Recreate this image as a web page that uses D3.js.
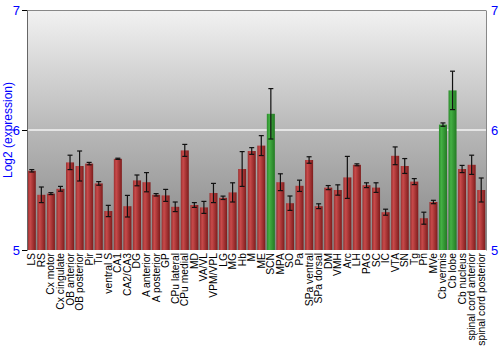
<!DOCTYPE html>
<html><head><meta charset="utf-8">
<script src="https://cdn.jsdelivr.net/npm/d3@7"></script>
<style>body{margin:0;background:#fff}svg{display:block}</style>
</head><body>
<script>
const categories = ["LS","RS","Cx motor","Cx cingulate","OB anterior","OB posterior","Pir","Tu","ventral S","CA1","CA2/CA3","DG","A anterior","A posterior","GP","CPu lateral","CPu medial","MD","VA/VL","VPM/VPL","LG","MG","Hb","M","ME","SCN","MPA","SO","Pa","SPa ventral","SPa dorsal","DM","VMH","Arc","LH","PAG","SC","IC","VTA","SN","Tg","Pn","MVe","Cb vermis","Cb lobe","Cb nucleus","spinal cord anterior","spinal cord posterior"];
const values = [5.66,5.46,5.47,5.51,5.73,5.70,5.72,5.555,5.325,5.76,5.365,5.58,5.565,5.46,5.455,5.36,5.83,5.375,5.355,5.475,5.435,5.48,5.675,5.825,5.87,6.135,5.565,5.39,5.535,5.75,5.365,5.52,5.50,5.605,5.71,5.54,5.52,5.315,5.785,5.70,5.57,5.265,5.40,6.045,6.33,5.675,5.71,5.50];
const errors = [0.01,0.065,0.008,0.02,0.06,0.125,0.01,0.015,0.047,0.005,0.09,0.045,0.08,0.01,0.05,0.04,0.05,0.02,0.05,0.08,0.014,0.08,0.145,0.028,0.083,0.21,0.07,0.06,0.047,0.027,0.02,0.017,0.043,0.175,0.008,0.02,0.04,0.025,0.074,0.062,0.025,0.05,0.014,0.014,0.16,0.03,0.08,0.1];
const highlighted = ["SCN","Cb vermis","Cb lobe"];
const yTicks = [5,6,7];

const W=500,H=350, m={l:27,r:14,t:10,b:100};
const svg=d3.select("body").append("svg").attr("width",W).attr("height",H);
const defs=svg.append("defs");
const bg=defs.append("linearGradient").attr("id","bg").attr("x1",0).attr("y1",0).attr("x2",0).attr("y2",1);
bg.append("stop").attr("offset","0%").attr("stop-color","#f2f2f2");
bg.append("stop").attr("offset","50%").attr("stop-color","#b8b8b8");
bg.append("stop").attr("offset","100%").attr("stop-color","#858585");
function barGrad(id,c0,c1,c2){
  const g=defs.append("linearGradient").attr("id",id).attr("x1",0).attr("y1",0).attr("x2",1).attr("y2",0);
  g.append("stop").attr("offset","0%").attr("stop-color",c0);
  g.append("stop").attr("offset","30%").attr("stop-color",c1);
  g.append("stop").attr("offset","100%").attr("stop-color",c2);
}
barGrad("red","#9a3030","#c84a4a","#7e1c1c");
barGrad("green","#2a8a2a","#44b044","#237a23");

const x=d3.scaleBand().domain(categories).range([m.l,W-m.r]).paddingInner(0.16).paddingOuter(0.08);
const y=d3.scaleLinear().domain([5,7]).range([H-m.b,m.t]);

svg.append("rect").attr("x",m.l).attr("y",m.t).attr("width",W-m.r-m.l).attr("height",H-m.b-m.t).attr("fill","url(#bg)");
svg.append("line").attr("x1",m.l).attr("x2",W-m.r).attr("y1",y(6)).attr("y2",y(6)).attr("stroke","#f4f4f4").attr("stroke-width",1.5);
svg.append("line").attr("x1",m.l).attr("x2",W-m.r).attr("y1",m.t+0.5).attr("y2",m.t+0.5).attr("stroke","#888");

svg.append("g").selectAll("rect").data(categories).join("rect")
  .attr("x",d=>x(d)).attr("width",x.bandwidth())
  .attr("y",(d,i)=>y(values[i])).attr("height",(d,i)=>y(5)-y(values[i]))
  .attr("fill",d=>highlighted.includes(d)?"url(#green)":"url(#red)");

const eb=svg.append("g").attr("stroke","#111").attr("stroke-width",1.2);
categories.forEach((d,i)=>{
  const cx=x(d)+x.bandwidth()/2, y1=y(values[i]+errors[i]), y2=y(values[i]-errors[i]);
  eb.append("line").attr("x1",cx).attr("x2",cx).attr("y1",y1).attr("y2",y2);
  eb.append("line").attr("x1",cx-2.5).attr("x2",cx+2.5).attr("y1",y1).attr("y2",y1);
  eb.append("line").attr("x1",cx-2.5).attr("x2",cx+2.5).attr("y1",y2).attr("y2",y2);
});

const ax=svg.append("g").attr("transform",`translate(${m.l},0)`).call(d3.axisLeft(y).tickValues(yTicks).tickFormat(d3.format("d")).tickSize(5).tickPadding(2));
ax.select(".domain").attr("stroke","#666");
ax.selectAll(".tick line").attr("stroke","#000");
ax.selectAll("text").attr("fill","#00f").style("font-family","Liberation Sans, Arial, sans-serif").style("font-size","13px");
const ar=svg.append("g").attr("transform",`translate(${W-m.r},0)`).call(d3.axisRight(y).tickValues(yTicks).tickFormat(d3.format("d")).tickSize(0).tickPadding(5));
ar.select(".domain").attr("stroke","#888");
ar.selectAll("text").attr("fill","#00f").style("font-family","Liberation Sans, Arial, sans-serif").style("font-size","13px");

svg.append("text").attr("transform",`translate(12,${(m.t+H-m.b)/2}) rotate(-90)`).attr("text-anchor","middle")
  .attr("fill","#00f").style("font-family","Liberation Sans, Arial, sans-serif").style("font-size","12px").text("Log2 (expression)");

svg.append("g").selectAll("text").data(categories).join("text")
  .attr("transform",d=>`translate(${x(d)+x.bandwidth()/2+3.5},${H-m.b+3}) rotate(-90)`)
  .attr("text-anchor","end").style("font-family","Liberation Sans, Arial, sans-serif").style("font-size","10.3px").attr("fill","#000").text(d=>d);
</script>
</body></html>
